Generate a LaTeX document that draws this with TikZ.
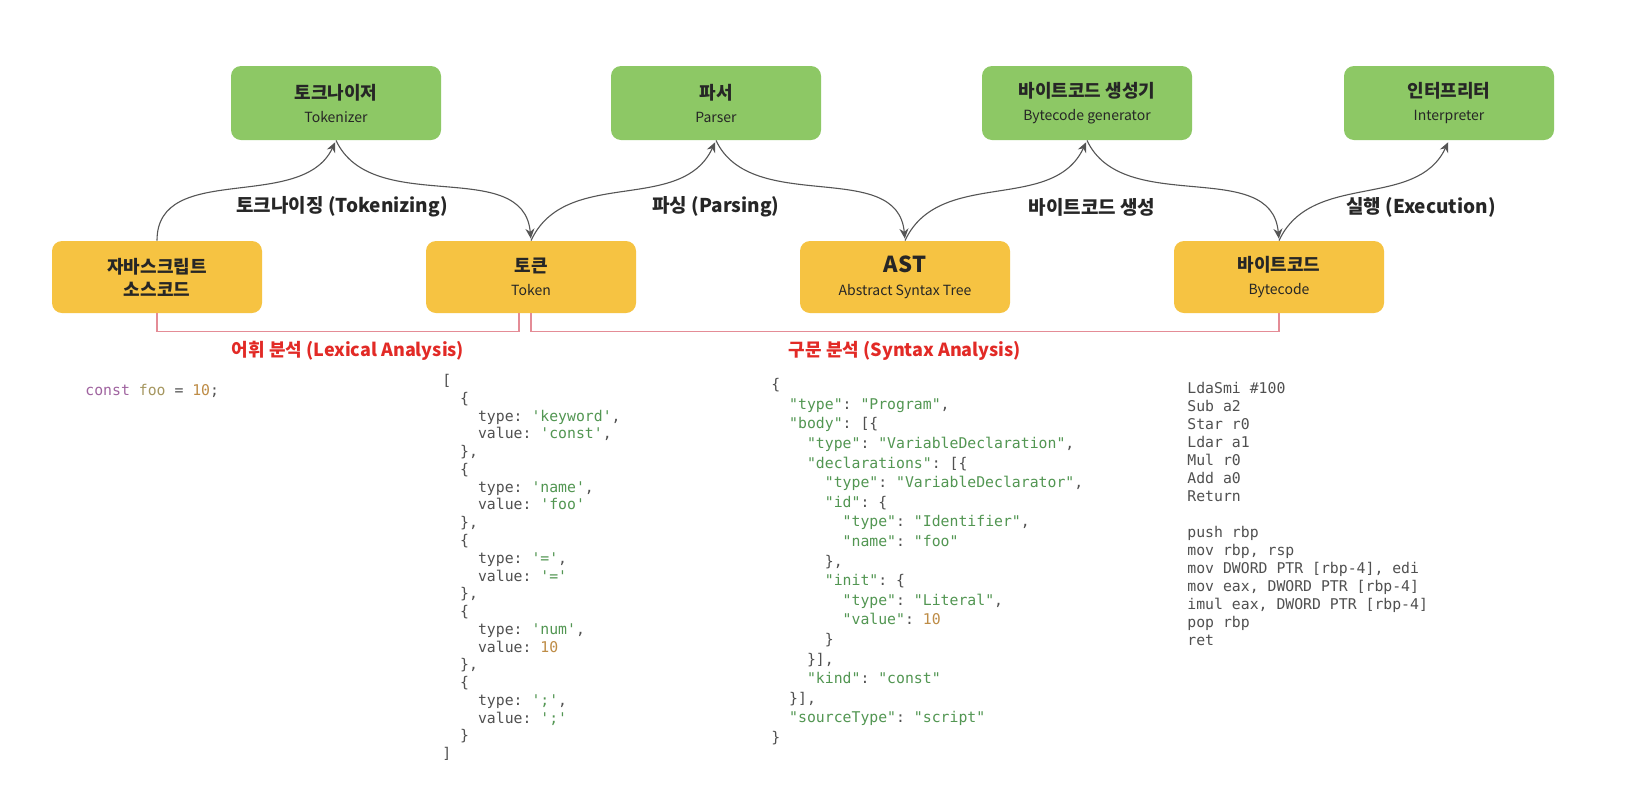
\documentclass[tikz,border=0pt]{standalone}
\usepackage{fontspec}
\setmainfont{Noto Sans CJK KR}
\setmonofont{DejaVu Sans Mono}
\usetikzlibrary{positioning, calc, arrows.meta}

\definecolor{stagegreen}{RGB}{141,200,101}
\definecolor{dataorange}{RGB}{246,195,66}
\definecolor{flowgrey}{RGB}{85,85,85}
\definecolor{brackpink}{RGB}{228,140,150}
\definecolor{phasered}{RGB}{226,42,38}
\definecolor{codegrey}{RGB}{80,80,80}
\definecolor{codegreen}{RGB}{82,150,82}
\definecolor{codenum}{RGB}{190,140,70}
\definecolor{codekw}{RGB}{160,100,160}
\definecolor{codeid}{RGB}{165,150,95}

\newcommand{\engname}[1]{{\fontsize{7}{8}\selectfont\mdseries #1}}
\newcommand{\jstr}[1]{\textcolor{codegreen}{#1}}
\newcommand{\jnum}[1]{\textcolor{codenum}{#1}}
\newcommand{\ind}[1]{\hspace*{#1\fontdimen2\font}}

\begin{document}
\begin{tikzpicture}[auto, node distance=187pt, on grid, >={Stealth[length=5pt, width=4.5pt]}]
    % Define block styles
    \tikzstyle{data} = [fill=dataorange, rounded corners=5pt, minimum width=105pt, minimum height=36pt, align=center, text=black!85, font=\fontsize{9}{11.5}\selectfont\bfseries]
    \tikzstyle{stage} = [data, fill=stagegreen, minimum height=37pt]
    \tikzstyle{flow} = [draw=flowgrey, line width=0.55pt, shorten >=1pt]
    \tikzstyle{bracket} = [draw=brackpink, line width=0.6pt]
    \tikzstyle{steplabel} = [font=\fontsize{9.5}{11}\selectfont\bfseries, text=black!85]
    \tikzstyle{phase} = [font=\fontsize{9}{11}\selectfont\bfseries, text=phasered]
    \tikzstyle{code} = [inner sep=0pt, align=left, text=codegrey, font=\fontsize{7.4}{8.88}\selectfont\ttfamily]

    \useasboundingbox [fill=white] (0,0) rectangle (816.5pt,-402pt);

    % Nodes
    \node [data] (src) at (78.5pt,-138.5pt) {자바스크립트\\소스코드};
    \node [data, right=of src] (tok) {토큰\\\engname{Token}};
    \node [data, right=of tok] (ast) {{\fontsize{11}{11.5}\selectfont AST}\\\engname{Abstract Syntax Tree}};
    \node [data, right=of ast] (bc) {바이트코드\\\engname{Bytecode}};
    \node [stage, above right=87pt and 89.5pt of src] (tokr) {토크나이저\\\engname{Tokenizer}};
    \node [stage, above right=87pt and 92.5pt of tok] (parser) {파서\\\engname{Parser}};
    \node [stage, above right=87pt and 91pt of ast] (gen) {바이트코드 생성기\\\engname{Bytecode generator}};
    \node [stage, above right=87pt and 85pt of bc] (interp) {인터프리터\\\engname{Interpreter}};

    % Step labels
    \node [steplabel, below=52pt of tokr, xshift=3pt] (tokenizing) {토크나이징 (Tokenizing)};
    \node [steplabel, below=52pt of parser] (parsing) {파싱 (Parsing)};
    \node [steplabel, below=52pt of gen, xshift=2.5pt] (generating) {바이트코드 생성};
    \node [steplabel, below=52pt of interp, xshift=-14pt] (executing) {실행 (Execution)};

    % Connections
    \draw [flow, ->] (src.north) to [out=90, in=-115] (tokr.south);
    \draw [flow, ->] (tokr.south) to [out=-65, in=95] (tok.north);
    \draw [flow, ->] (tok.north) to [out=65, in=-115] (parser.south);
    \draw [flow, ->] (parser.south) to [out=-65, in=95] (ast.north);
    \draw [flow, ->] (ast.north) to [out=65, in=-115] (gen.south);
    \draw [flow, ->] (gen.south) to [out=-65, in=95] (bc.north);
    \draw [flow, ->] (bc.north) to [out=65, in=-115] (interp.south);

    % Analysis phases
    \draw [bracket] (src.south) -- ++(0,-9pt) -| ([xshift=-6pt]tok.south);
    \draw [bracket] (tok.south) -- ++(0,-9pt) -| (bc.south);
    \node [phase] (lexical) at ($(src)!0.5!(tok)+(2pt,-37pt)$) {어휘 분석 (Lexical Analysis)};
    \node [phase, below=37pt of ast] (syntax) {구문 분석 (Syntax Analysis)};

    % Code samples
    \node [code, anchor=base west] (srccode) at (42.5pt,-197.5pt) {\textcolor{codekw}{const} \textcolor{codeid}{foo} = \jnum{10};};

    \node [code, anchor=north west] (tokenlist) at (221pt,-187pt) {[\\
\ind{2}\{\\
\ind{4}type: \jstr{'keyword'},\\
\ind{4}value: \jstr{'const'},\\
\ind{2}\},\\
\ind{2}\{\\
\ind{4}type: \jstr{'name'},\\
\ind{4}value: \jstr{'foo'}\\
\ind{2}\},\\
\ind{2}\{\\
\ind{4}type: \jstr{'='},\\
\ind{4}value: \jstr{'='}\\
\ind{2}\},\\
\ind{2}\{\\
\ind{4}type: \jstr{'num'},\\
\ind{4}value: \jnum{10}\\
\ind{2}\},\\
\ind{2}\{\\
\ind{4}type: \jstr{';'},\\
\ind{4}value: \jstr{';'}\\
\ind{2}\}\\
]};

    \node [code, anchor=north west, font=\fontsize{7.4}{9.8}\selectfont\ttfamily] (astjson) at (385.5pt,-189pt) {\{\\
\ind{2}\jstr{"type"}: \jstr{"Program"},\\
\ind{2}\jstr{"body"}: [\{\\
\ind{4}\jstr{"type"}: \jstr{"VariableDeclaration"},\\
\ind{4}\jstr{"declarations"}: [\{\\
\ind{6}\jstr{"type"}: \jstr{"VariableDeclarator"},\\
\ind{6}\jstr{"id"}: \{\\
\ind{8}\jstr{"type"}: \jstr{"Identifier"},\\
\ind{8}\jstr{"name"}: \jstr{"foo"}\\
\ind{6}\},\\
\ind{6}\jstr{"init"}: \{\\
\ind{8}\jstr{"type"}: \jstr{"Literal"},\\
\ind{8}\jstr{"value"}: \jnum{10}\\
\ind{6}\}\\
\ind{4}\}],\\
\ind{4}\jstr{"kind"}: \jstr{"const"}\\
\ind{2}\}],\\
\ind{2}\jstr{"sourceType"}: \jstr{"script"}\\
\}};

    \node [code, anchor=north west, font=\fontsize{7.4}{9}\selectfont\ttfamily] (bytelist) at (593.5pt,-191pt) {LdaSmi \#100\\
Sub a2\\
Star r0\\
Ldar a1\\
Mul r0\\
Add a0\\
Return\\[9pt]
push rbp\\
mov rbp, rsp\\
mov DWORD PTR [rbp-4], edi\\
mov eax, DWORD PTR [rbp-4]\\
imul eax, DWORD PTR [rbp-4]\\
pop rbp\\
ret};
\end{tikzpicture}
\end{document}
